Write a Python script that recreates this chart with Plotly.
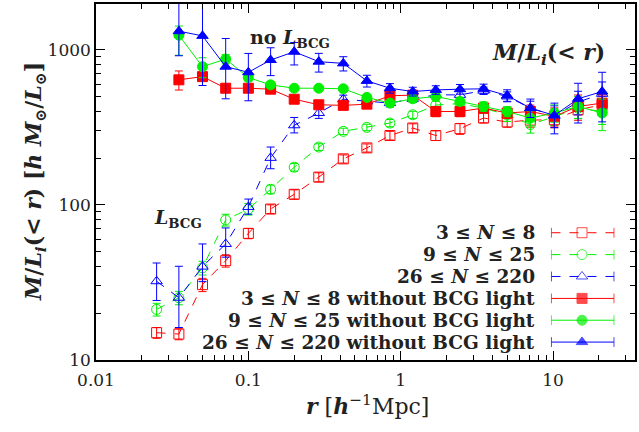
import plotly.graph_objects as go

# radial bins [h^-1 Mpc]
r_with_bcg = [0.025, 0.035, 0.05, 0.071, 0.10, 0.14, 0.20, 0.29, 0.42, 0.60,
              0.85, 1.2, 1.7, 2.45, 3.5, 5.0, 7.1, 10.2, 14.6, 21.0]
r_no_bcg = [0.035, 0.05, 0.071, 0.10, 0.14, 0.20, 0.29, 0.42, 0.60,
            0.85, 1.2, 1.7, 2.45, 3.5, 5.0, 7.1, 10.2, 14.6, 21.0]

# M/L_i(<r) including BCG light
ml_low = [15.0, 14.7, 30.6, 43.7, 65.5, 94, 117, 151, 198, 233,
          280, 313, 280, 310, 363, 342, 352, 354, 410, 442]
ml_low_err = [1.2, 1.2, 3, 4, 5, 6, 8, 10, 12, 14,
              18, 20, 20, 25, 25, 25, 35, 40, 50, 60]
ml_mid = [21.2, 25.2, 39.3, 80, 94, 126, 175, 236, 298, 316,
          337, 381, 440, 450, 420, 380, 330, 370, 420, 400]
ml_mid_err = [2, 2.5, 4, 7, 8, 8, 10, 12, 14, 15,
              18, 20, 25, 25, 30, 35, 40, 45, 60, 70]
ml_high = [32.2, 25.2, 40, 56, 97, 201, 326, 391, 480, 464,
           453, 483, 512, 512, 545, 500, 421, 375, 460, 520]
ml_high_hi = [10, 15, 16, 15, 12, 35, 40, 30, 30, 25,
              25, 25, 30, 30, 30, 35, 45, 60, 80, 100]
ml_high_lo = [8, 9, 8, 10, 10, 30, 35, 30, 30, 25,
              25, 25, 30, 30, 30, 35, 45, 60, 80, 100]

# M/L_i(<r) without BCG light
nb_low = [640, 671, 565, 565, 557, 480, 442, 438, 446, 505,
          510, 400, 400, 421, 391, 400, 372, 431, 453]
nb_low_err = [90, 30, 35, 30, 25, 25, 20, 20, 20, 30,
              30, 30, 30, 30, 30, 40, 50, 80, 60]
nb_mid = [1242, 778, 871, 662, 594, 565, 565, 560, 493, 453,
          483, 500, 464, 431, 400, 363, 391, 431, 391]
nb_mid_hi = [180, 110, 60, 35, 25, 20, 20, 20, 20, 20,
             25, 25, 25, 30, 30, 40, 50, 70, 90]
nb_mid_lo = [320, 117, 60, 35, 25, 20, 20, 20, 20, 20,
             25, 25, 25, 30, 30, 40, 50, 70, 90]
nb_high = [1318, 1229, 778, 716, 859, 971, 838, 817, 630, 565,
           538, 551, 557, 560, 507, 421, 377, 483, 538]
nb_high_hi = [900, 900, 404, 231, 171, 143, 110, 85, 55, 40,
              35, 35, 40, 40, 45, 60, 76, 125, 178]
nb_high_lo = [403, 641, 295, 247, 178, 173, 120, 87, 55, 40,
              35, 35, 40, 40, 45, 55, 90, 146, 195]

labels = ["<b>3 ≤ <i>N</i> ≤ 8</b>",
          "<b>9 ≤ <i>N</i> ≤ 25</b>",
          "<b>26 ≤ <i>N</i> ≤ 220</b>",
          "<b>3 ≤ <i>N</i> ≤ 8 without BCG light</b>",
          "<b>9 ≤ <i>N</i> ≤ 25 without BCG light</b>",
          "<b>26 ≤ <i>N</i> ≤ 220 without BCG light</b>"]

RED, GREEN, BLUE = "#ff0000", "#00f000", "#0000ff"
SERIF = "DejaVu Serif"
INK = "#222"

fig = go.Figure()


def add_series(x, y, hi, lo, color, symbol, size, dash):
    fig.add_trace(go.Scatter(
        x=x, y=y, mode="lines+markers",
        line=dict(color=color, width=1, dash=dash),
        marker=dict(symbol=symbol, size=size, color=color,
                    line=dict(color=color, width=1)),
        error_y=dict(type="data", array=hi, arrayminus=lo, symmetric=False,
                     color=color, thickness=1, width=4),
        showlegend=False))


add_series(r_with_bcg, ml_low, ml_low_err, ml_low_err, RED, "square-open", 10, "dash")
add_series(r_with_bcg, ml_mid, ml_mid_err, ml_mid_err, GREEN, "circle-open", 10, "dash")
add_series(r_with_bcg, ml_high, ml_high_hi, ml_high_lo, BLUE, "triangle-up-open", 10, "dash")
add_series(r_no_bcg, nb_low, nb_low_err, nb_low_err, RED, "square", 10, "solid")
add_series(r_no_bcg, nb_mid, nb_mid_hi, nb_mid_lo, GREEN, "circle", 10, "solid")
add_series(r_no_bcg, nb_high, nb_high_hi, nb_high_lo, BLUE, "triangle-up", 10, "solid")

# key: right-aligned labels with line samples on an overlay axis
key_rows = [0.3575, 0.296, 0.2346, 0.173, 0.1117, 0.0503]
key_style = [(RED, "square-open", "dash"), (GREEN, "circle-open", "dash"),
             (BLUE, "triangle-up-open", "dash"), (RED, "square", "solid"),
             (GREEN, "circle", "solid"), (BLUE, "triangle-up", "solid")]
for yk, (col, sym, dash), lab in zip(key_rows, key_style, labels):
    fig.add_trace(go.Scatter(
        x=[0.845, 0.9017, 0.961], y=[yk, yk, yk], xaxis="x2", yaxis="y2",
        mode="lines+markers", line=dict(color=col, width=1, dash=dash),
        marker=dict(symbol=["line-ns", sym, "line-ns"], size=[7, 10, 7],
                    color=col, line=dict(color=col, width=1)),
        showlegend=False, hoverinfo="skip"))
    fig.add_annotation(x=0.818, y=yk, xref="paper", yref="paper",
                       text=lab, showarrow=False, xanchor="right", yanchor="middle",
                       font=dict(family=SERIF, size=18.5, color=INK))

minor_x = [m * 10 ** e for e in (-2, -1, 0, 1) for m in range(2, 10)]
minor_y = [m * 10 ** e for e in (1, 2, 3) for m in range(2, 10)]

axis_common = dict(showgrid=False, zeroline=False, showline=True,
                   linecolor="black", linewidth=1.5, mirror="allticks",
                   ticks="inside", ticklen=9, tickwidth=1, tickcolor="black",
                   tickfont=dict(family=SERIF, size=17, color=INK))

fig.update_layout(
    width=639, height=432,
    margin=dict(l=96, r=4, t=2, b=72),
    paper_bgcolor="white", plot_bgcolor="white",
    xaxis=dict(type="log", range=[-2, 1.538],
               tickvals=[0.01, 0.1, 1, 10], ticktext=["0.01", "0.1", "1", "10"],
               ticklabelstandoff=4,
               minor=dict(tickvals=minor_x, ticks="inside", ticklen=5,
                          tickcolor="black", tickwidth=1),
               **axis_common),
    yaxis=dict(type="log", range=[1, 3.295],
               tickvals=[10, 100, 1000], ticktext=["10", "100", "1000"],
               minor=dict(tickvals=minor_y, ticks="inside", ticklen=5,
                          tickcolor="black", tickwidth=1),
               **axis_common),
    xaxis2=dict(overlaying="x", range=[0, 1], visible=False, domain=[0, 1]),
    yaxis2=dict(overlaying="y", range=[0, 1], visible=False),
)

# panel texts
fig.add_annotation(x=0.282, y=0.944, xref="paper", yref="paper", showarrow=False,
                   xanchor="left",
                   text="<b>no <i>L</i><sub>BCG</sub></b>",
                   font=dict(family=SERIF, size=19, color=INK))
fig.add_annotation(x=0.104, y=0.397, xref="paper", yref="paper", showarrow=False,
                   xanchor="left",
                   text="<b><i>L</i><sub>BCG</sub></b>",
                   font=dict(family=SERIF, size=19, color=INK))
fig.add_annotation(x=0.948, y=0.908, xref="paper", yref="paper", showarrow=False,
                   xanchor="right",
                   text="<b><i>M</i>/<i>L<sub>i</sub></i>(&lt; <i>r</i>)</b>",
                   font=dict(family=SERIF, size=22, color=INK))

# axis titles
fig.add_annotation(x=-0.1447, y=0.5, xref="paper", yref="paper", showarrow=False,
                   textangle=-90,
                   text="<b><i>M</i>/<i>L<sub>i</sub></i>(&lt; <i>r</i>) [<i>h M</i><sub>⊙</sub>/<i>L</i><sub>⊙</sub>]</b>",
                   font=dict(family=SERIF, size=22, color=INK))
fig.add_annotation(x=0.503, y=-0.17, xref="paper", yref="paper", showarrow=False,
                   text="<b><i>r</i></b> [<b><i>h</i></b><sup>−1</sup>Mpc]",
                   font=dict(family=SERIF, size=22, color=INK))

fig.write_html("out.html")
